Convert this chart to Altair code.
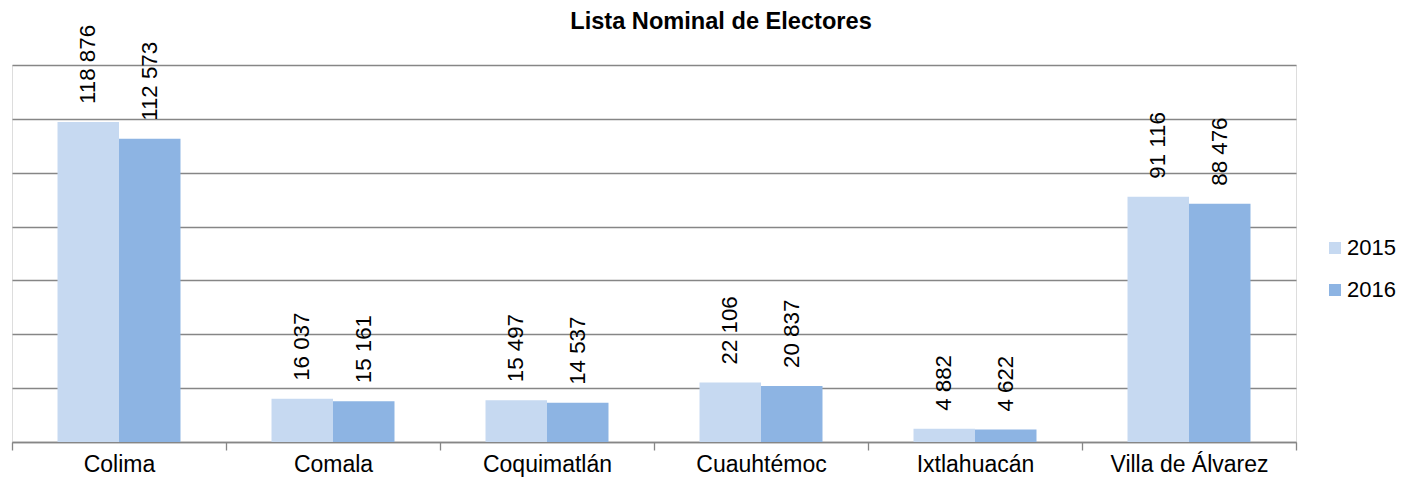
import altair as alt
import pandas as pd

municipios = ["Colima", "Comala", "Coquimatlán", "Cuauhtémoc", "Ixtlahuacán", "Villa de Álvarez"]
v2015 = [118876, 16037, 15497, 22106, 4882, 91116]
v2016 = [112573, 15161, 14537, 20837, 4622, 88476]
years = ["2015", "2016"]
colors = ["#C6D9F1", "#8DB4E3"]
y_ticks = [0, 20000, 40000, 60000, 80000, 100000, 120000, 140000]

rows = []
for m, a, b in zip(municipios, v2015, v2016):
    for yr, v in zip(years, [a, b]):
        rows.append({"municipio": m, "year": yr, "value": v,
                     "label": f"{v:,}".replace(",", " ")})
df = pd.DataFrame(rows)

FONT = "Liberation Sans"

x_enc = alt.X("municipio:N", sort=municipios,
              scale=alt.Scale(paddingInner=0, paddingOuter=0),
              axis=alt.Axis(title=None, labelAngle=0, labelFontSize=23, labelColor="#000000",
                            labelFont=FONT, domainColor="#868686", domainWidth=1.5,
                            tickColor="#868686", tickWidth=1.3, tickSize=8, labelPadding=3,
                            tickBand="extent", grid=False))
xo_enc = alt.XOffset("year:N", sort=years, scale=alt.Scale(paddingInner=0, paddingOuter=0.74))
y_enc = alt.Y("value:Q", scale=alt.Scale(domain=[0, 140000], nice=False),
              axis=alt.Axis(title=None, labels=False, ticks=False, domain=False, grid=True,
                            values=y_ticks, gridColor="#868686", gridWidth=1.3))

base = alt.Chart(df)

bars = base.mark_bar().encode(
    x=x_enc, xOffset=xo_enc, y=y_enc,
    color=alt.Color("year:N", sort=years, scale=alt.Scale(domain=years, range=colors),
                    legend=alt.Legend(orient="none", legendX=1312, legendY=172, title=None,
                                      symbolType="square", symbolSize=144, symbolStrokeWidth=0,
                                      labelFontSize=22, labelFont=FONT, labelColor="#000000",
                                      rowPadding=20, padding=0, labelOffset=1)),
)

labels = base.mark_text(angle=270, align="left", baseline="middle", dx=18,
                        fontSize=22.3, font=FONT, color="#000000").encode(
    x=x_enc, xOffset=xo_enc, y=y_enc, text="label:N")

chart = alt.layer(bars, labels).properties(
    width=1284, height=377,
    title=alt.TitleParams(text="Lista Nominal de Electores", fontSize=23.6, font=FONT,
                          fontWeight="bold", color="#000000", anchor="middle", frame="group",
                          dx=67, offset=-9, orient="top"),
    autosize=alt.AutoSizeParams(type="none"),
    padding={"left": 4, "top": 57, "right": 103, "bottom": 35},
).configure_view(stroke=None).configure(font=FONT)

chart.save("out.html", embed_options={"renderer": "svg", "actions": False})
